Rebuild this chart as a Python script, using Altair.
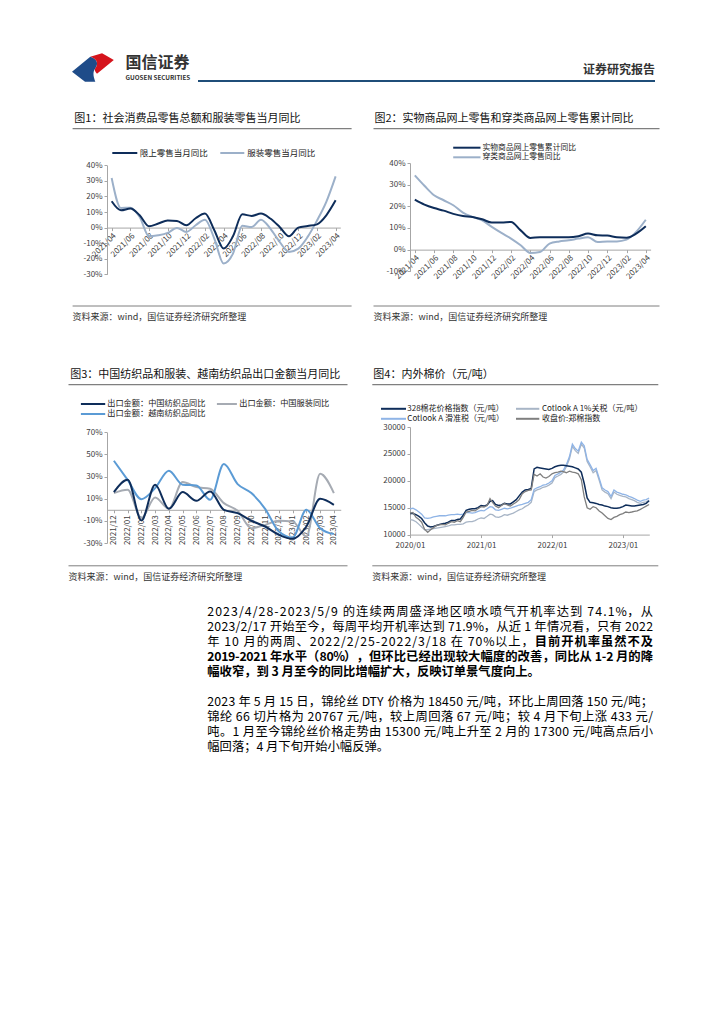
import json
import altair as alt
import pandas as pd

FONT = "Noto Sans CJK SC"
SOURCE = "资料来源：wind，国信证券经济研究所整理"

# ---------------- Chart 1 ----------------
c1_months = ["2021/04", "2021/05", "2021/06", "2021/07", "2021/08", "2021/09", "2021/10", "2021/11", "2021/12",
             "2022/01", "2022/02", "2022/03", "2022/04", "2022/05", "2022/06", "2022/07", "2022/08", "2022/09",
             "2022/10", "2022/11", "2022/12", "2023/01", "2023/02", "2023/03", "2023/04"]
c1_series = ["限上零售当月同比", "服装零售当月同比"]
c1_retail = [16.9, 11.1, 12.2, 7.9, 0.9, 2.6, 4.5, 4.3, 1.5, 6.0, 9.0, -1.7, -13.5, -5.6, 8.5, 7.5, 9.0, 5.8,
             0.4, -5.6, 0.0, 1.0, 2.1, 7.9, 17.5]
c1_apparel = [31.8, 12.6, 12.8, 6.8, -5.6, -4.9, -3.4, -0.2, -2.8, 1.5, 5.1, -7.1, -23.1, -16.7, 1.1, 0.4, 5.1,
              -0.6, -9.2, -15.6, -13.5, -6.0, 4.5, 16.5, 32.9]

# ---------------- Chart 2 ----------------
c2_series = ["实物商品网上零售累计同比", "穿类商品网上零售同比"]
c2_online = [23.1, 20.8, 19.2, 18.0, 16.5, 15.5, 15.1, 14.0, 12.5, 12.5, 12.8, 8.9, 5.4, 5.7, 5.7, 5.7, 5.7,
             6.2, 7.4, 6.6, 6.5, 5.7, 5.5, 7.4, 10.8]
c2_apparel = [34.3, 29.5, 25.1, 22.8, 20.5, 17.1, 15.1, 13.5, 10.5, 7.7, 5.1, 2.0, -1.5, -1.1, 2.8, 3.8, 4.3,
              5.1, 5.7, 3.5, 3.8, 3.8, 4.6, 8.2, 13.8]

# ---------------- Chart 3 ----------------
c3_months = ["2021/12", "2022/01", "2022/02", "2022/03", "2022/04", "2022/05", "2022/06", "2022/07", "2022/08",
             "2022/09", "2022/10", "2022/11", "2022/12", "2023/01", "2023/02", "2023/03", "2023/04"]
c3_series = ["出口金额：中国纺织品同比", "出口金额：中国服装同比", "出口金额：越南纺织品同比"]
c3_cn_textile = [16.0, 27.1, -9.6, 22.6, 0.9, 16.0, 8.1, 16.6, 0.0, -3.0, -9.9, -15.1, -22.6, -26.2, -15.1, 9.9, 4.5]
c3_cn_apparel = [15.1, 18.1, -7.5, 11.1, 0.9, 25.0, 20.5, 19.0, 6.0, -0.9, -16.6, -13.6, -9.9, -10.5, -24.1, 32.5, 15.1]
c3_vn_textile = [44.3, 27.1, 9.6, 19.6, 35.2, 22.6, 22.0, 9.0, 41.3, 23.2, 15.1, 0.9, -19.6, -25.0, 0.0, -16.6, -22.0]

# ---------------- Chart 4 (semi-monthly readings) ----------------
c4_series = ["328棉花价格指数（元/吨）", "Cotlook A 1%关税（元/吨）", "Cotlook A 滑准税（元/吨）", "收盘价:郑棉指数"]
c4_dates = [f"{y}-{m:02d}-{d:02d}" for y in range(2020, 2024) for m in range(1, 13) for d in (1, 16)][:82]
c4_328 = [13900, 13900, 13700, 13400, 13000, 12200, 11600, 11400, 11500, 11700, 11900, 12000,
          12100, 12300, 12600, 12600, 12800, 12900, 13600, 14500, 14700, 14800, 14800, 15000,
          15400, 15300, 15500, 16200, 16300, 15600, 15400, 15500, 15800, 15700, 15700, 16100,
          16500, 17200, 17900, 18300, 18400, 18600, 22200, 22500, 22400, 22300, 22200, 22100,
          22300, 22600, 22800, 22900, 22900, 22800, 22700, 22600, 22400, 22200, 21600, 19500,
          16800, 16000, 15900, 15800, 15600, 15500, 15300, 15200, 15000, 14900, 14900, 15000,
          15200, 15500, 15400, 15300, 15300, 15400, 15500, 15600, 15800, 16300]
c4_cot1 = [12800, 12700, 12400, 11900, 11400, 10900, 10900, 11000, 11100, 11200, 11300, 11400,
           11500, 11600, 11800, 11800, 11900, 11900, 12000, 12300, 12400, 12400, 12600, 12900,
           13100, 13000, 13400, 13800, 13700, 13300, 13200, 13400, 13700, 13600, 13800, 14000,
           14300, 14600, 14800, 15200, 15500, 16000, 18000, 18300, 18500, 18800, 18900, 19200,
           19600, 20600, 20900, 21200, 21600, 22600, 24100, 26400, 25600, 25100, 26800, 26100,
           23600, 22600, 21500, 21900, 20100, 18300, 17900, 17600, 16700, 17900, 17500, 17300,
           17100, 17000, 16700, 16500, 16300, 16000, 15800, 16000, 16100, 16400]
c4_slide = [14800, 14900, 14600, 14200, 13800, 13100, 13000, 13100, 13300, 13400, 13500, 13500,
            13500, 13600, 13700, 13700, 13800, 13700, 13800, 14100, 14100, 14000, 14100, 14300,
            14500, 14400, 14800, 15200, 15100, 14600, 14500, 14700, 14900, 14800, 14900, 15100,
            15300, 15500, 15600, 15800, 16000, 16500, 18400, 18700, 18900, 19200, 19300, 19600,
            20000, 21000, 21300, 21600, 22000, 23000, 24500, 26800, 26000, 25500, 27200, 26500,
            24000, 23000, 21900, 22300, 20500, 18700, 18300, 18000, 17100, 18300, 17900, 17700,
            17500, 17400, 17100, 16900, 16700, 16400, 16200, 16400, 16500, 16800]
c4_zce = [14000, 14100, 13200, 12800, 12300, 11000, 10400, 10900, 11300, 11700, 11800, 11900,
          11800, 12100, 12400, 12300, 12600, 12400, 13200, 14200, 14300, 14500, 14400, 14800,
          15200, 15100, 15400, 16700, 16000, 15300, 15000, 15400, 15800, 15500, 15300, 15700,
          16000, 16500, 17600, 18000, 18200, 18300, 21200, 20900, 21300, 20700, 20500, 20800,
          21300, 21500, 21600, 21800, 21700, 21500, 21800, 21600, 21500, 21300, 20200, 17000,
          15000, 14700, 15200, 15000, 14400, 14000, 13500, 13000, 12800, 13200, 13400, 13700,
          13900, 14200, 14100, 14200, 14300, 14400, 14700, 15000, 15300, 15600]

# ---------------- Text (each line: list of (segment, bold)) ----------------
para1 = [
    [("2023/4/28-2023/5/9 的连续两周盛泽地区喷水喷气开机率达到 74.1%，从", False)],
    [("2023/2/17 开始至今，每周平均开机率达到 71.9%，从近 1 年情况看，只有 2022", False)],
    [("年 10 月的两周、2022/2/25-2022/3/18 在 70%以上，", False), ("目前开机率虽然不及", True)],
    [("2019-2021 年水平（80%），但环比已经出现较大幅度的改善，同比从 1-2 月的降", True)],
]
para1_last = ("幅收窄，到 3 月至今的同比增幅扩大，反映订单景气度向上。", True)
para2 = [
    [("2023 年 5 月 15 日，锦纶丝 DTY 价格为 18450 元/吨，环比上周回落 150 元/吨；", False)],
    [("锦纶 66 切片格为 20767 元/吨，较上周回落 67 元/吨；较 4 月下旬上涨 433 元/", False)],
    [("吨。1 月至今锦纶丝价格走势由 15300 元/吨上升至 2 月的 17300 元/吨高点后小", False)],
]
para2_last = ("幅回落；4 月下旬开始小幅反弹。", False)

NAVY = "#0e2d5a"
LIGHT = "#9cb0c9"
AX = dict(grid=False, domainColor="#a6a6a6", tickColor="#a6a6a6", tickSize=3, labelFontSize=8,
          labelColor="#404040", labelFont=FONT, title=None, labelOverlap=False, labelFlush=False)


def T(x, y, s, size, color="#000", align="left", weight="normal"):
    return alt.Chart(pd.DataFrame({"t": [s]})).mark_text(
        align=align, baseline="middle", fontSize=size, color=color, fontWeight=weight, font=FONT
    ).encode(x=alt.value(x), y=alt.value(y), text="t:N")


def R(x1, x2, y, color, w):
    return alt.Chart(pd.DataFrame({"a": [0]})).mark_rule(color=color, strokeWidth=w).encode(
        x=alt.value(x1), x2=alt.value(x2), y=alt.value(y))


def S(w=1, h=1):
    return alt.Chart(pd.DataFrame({"a": [0]})).mark_point(opacity=0, size=0.01).encode(
        x=alt.value(0.5), y=alt.value(0.5)).properties(width=w, height=h)


def decor(ox, oy, title, tpos, span, rule_y, src_rule_y, src_y, legend, lsize=8.5):
    L = [T(tpos[0] - ox, tpos[1] - oy, title, 11, "#111"),
         R(span[0] - ox, span[1] - ox, rule_y - oy, "#7f7f7f", 1.3)]
    for (x1, x2, y, col, lab, tx) in legend:
        L.append(R(x1 - ox, x2 - ox, y - oy, col, 2))
        L.append(T(tx - ox, y - oy, lab, lsize, "#222"))
    L.append(R(span[0] - ox, span[1] - ox, src_rule_y - oy, "#7f7f7f", 1))
    L.append(T(span[0] - ox, src_y - oy, SOURCE, 9, "#333"))
    return L


def line(df, x, y, color, width=2, interp="monotone"):
    return alt.Chart(df).mark_line(color=color, strokeWidth=width, interpolate=interp).encode(x=x, y=y)


def pct_y(lo, hi, vals, rng):
    return alt.Y("v:Q", scale=alt.Scale(domain=[lo, hi], nice=False, zero=False, range=rng),
                 axis=alt.Axis(values=vals, labelExpr="datum.value + '%'", labelPadding=2, **AX))


# ---- Panel 1 ----
O1 = (102.7, 162.7); W1, H1, D1 = 233.3, 111.3, 2.3
zero1 = D1 + (H1 - D1) * 40 / 70
x1 = alt.X("i:Q", scale=alt.Scale(domain=[-0.5, 24.5], nice=False, zero=False),
           axis=alt.Axis(values=list(range(0, 25, 2)), labelExpr=json.dumps(c1_months) + "[datum.value]",
                         labelAngle=-45, labelAlign="right", labelBaseline="top", labelPadding=1,
                         offset=-(H1 - zero1), **AX))
y1 = pct_y(-30, 40, list(range(-30, 41, 10)), [H1, D1])
p1 = alt.layer(
    line(pd.DataFrame({"i": range(25), "v": c1_apparel}), x1, y1, LIGHT),
    line(pd.DataFrame({"i": range(25), "v": c1_retail}), x1, y1, NAVY),
    *decor(O1[0], O1[1], "图1：社会消费品零售总额和服装零售当月同比", (70, 119), (68.3, 347.3), 128.3, 305.7, 316.7,
           [(108, 133, 152.7, NAVY, c1_series[0], 135.5), (216, 240, 152.7, LIGHT, c1_series[1], 243)])
).properties(width=W1, height=H1)

# ---- Panel 2 ----
O2 = (404.5, 162.7); W2, H2 = 240.6, 108.3
x2 = alt.X("i:Q", scale=alt.Scale(domain=[-0.5, 24.5], nice=False, zero=False),
           axis=alt.Axis(values=list(range(0, 25, 2)), labelExpr=json.dumps(c1_months) + "[datum.value]",
                         labelAngle=-45, labelAlign="right", labelBaseline="top", labelPadding=1,
                         offset=-(H2 * 10 / 50), **AX))
y2 = pct_y(-10, 40, list(range(-10, 41, 10)), [H2, 0])
p2 = alt.layer(
    line(pd.DataFrame({"i": range(25), "v": c2_apparel}), x2, y2, LIGHT),
    line(pd.DataFrame({"i": range(25), "v": c2_online}), x2, y2, NAVY),
    *decor(O2[0], O2[1], "图2：实物商品网上零售和穿类商品网上零售累计同比", (369, 118.5), (368, 654), 128.3, 305.7, 316.7,
           [(447.7, 475, 147.4, NAVY, c2_series[0], 477), (447.7, 475, 157.0, LIGHT, c2_series[1], 477)],
           lsize=7.8)
).properties(width=W2, height=H2)

# ---- Panel 3 ----
O3 = (106.8, 425.7); W3, H3, D3 = 233.75, 116.0, 5.3
zero3 = D3 + (H3 - D3) * 70 / 100
C3_GRAY, C3_BLUE = "#a6abb3", "#5b9bd5"
x3 = alt.X("i:Q", scale=alt.Scale(domain=[-0.5, 16.5], nice=False, zero=False),
           axis=alt.Axis(values=list(range(17)), labelExpr=json.dumps(c3_months) + "[datum.value]",
                         labelAngle=-90, labelAlign="right", labelBaseline="middle", labelPadding=2,
                         offset=-(H3 - zero3), **AX))
y3 = pct_y(-30, 70, [-30, -10, 10, 30, 50, 70], [H3, D3])
p3 = alt.layer(
    line(pd.DataFrame({"i": range(17), "v": c3_cn_apparel}), x3, y3, C3_GRAY),
    line(pd.DataFrame({"i": range(17), "v": c3_vn_textile}), x3, y3, C3_BLUE),
    line(pd.DataFrame({"i": range(17), "v": c3_cn_textile}), x3, y3, NAVY),
    *decor(O3[0], O3[1], "图3：中国纺织品和服装、越南纺织品出口金额当月同比", (70, 374), (68.3, 347.3), 383.3, 564.5, 575.5,
           [(80.7, 105, 402.7, NAVY, c3_series[0], 107), (216.7, 236.7, 402.7, C3_GRAY, c3_series[1], 239),
            (80.7, 105, 412.7, C3_BLUE, c3_series[2], 107)], lsize=8.2)
).properties(width=W3, height=H3)

# ---- Panel 4 ----
O4 = (405.7, 425.7); W4, H4 = 239.3, 107.6
C4 = ["#0e2d5a", "#a8b5c6", "#8fb4e6", "#7f7f7f"]
x4 = alt.X("d:T", scale=alt.Scale(type="utc", domain=[alt.DateTime(year=2020, month=1, date=1, utc=True),
                                                      alt.DateTime(year=2023, month=5, date=17, utc=True)]),
           axis=alt.Axis(values=[alt.DateTime(year=yy, month=1, date=1, utc=True) for yy in (2020, 2021, 2022, 2023)],
                         format="%Y/%m", labelPadding=4, **AX))
y4 = alt.Y("v:Q", scale=alt.Scale(domain=[10000, 30000], nice=False, zero=False),
           axis=alt.Axis(values=[10000, 15000, 20000, 25000, 30000], format="d", labelPadding=2, **AX))
p4 = alt.layer(
    line(pd.DataFrame({"d": c4_dates, "v": c4_cot1}), x4, y4, C4[1], 1.3, "linear"),
    line(pd.DataFrame({"d": c4_dates, "v": c4_slide}), x4, y4, C4[2], 1.3, "linear"),
    line(pd.DataFrame({"d": c4_dates, "v": c4_328}), x4, y4, C4[0], 1.5, "linear"),
    line(pd.DataFrame({"d": c4_dates, "v": c4_zce}), x4, y4, C4[3], 1.3, "linear"),
    *decor(O4[0], O4[1], "图4：内外棉价（元/吨）", (369, 374), (368, 654), 383.3, 564.5, 575.5,
           [(376.7, 401.7, 407.5, C4[0], c4_series[0], 403), (511.7, 535, 407.5, C4[1], c4_series[1], 537.7),
            (376.7, 401.7, 417.5, C4[2], c4_series[2], 403), (511.7, 535, 417.5, C4[3], c4_series[3], 537.7)],
           lsize=8)
).properties(width=W4, height=H4)

# ---- Header ----
BLUE_PATH = "M-1,0.2 L-0.13,-0.51 C0.15,-0.45 0.3,-0.2 0.11,0.04 C-0.05,0.25 0.05,0.5 0.11,0.68 L-0.38,0.68 Z"
RED_PATH = "M-0.13,-0.51 L0.43,-0.68 L0.6,-0.58 L0.99,-0.36 L0.19,0.3 C0.1,0.2 0.05,0.1 0.11,0.04 C0.3,-0.2 0.15,-0.45 -0.13,-0.51 Z"
logo_df = pd.DataFrame({"a": [0]})
header = alt.layer(
    alt.Chart(logo_df).mark_point(shape=BLUE_PATH, size=1764, filled=True, color="#1f4c89", opacity=1).encode(
        x=alt.value(85), y=alt.value(59.5)),
    alt.Chart(logo_df).mark_point(shape=RED_PATH, size=1764, filled=True, color="#d5141c", opacity=1).encode(
        x=alt.value(85), y=alt.value(59.5)),
    T(117.5, 54.5, "国信证券", 16, "#333", weight="bold"),
    T(117.5, 70.3, "GUOSEN SECURITIES", 6.3, "#333", weight="bold"),
    T(647, 62, "证券研究报告", 12, "#333", align="right", weight="bold"),
    R(190, 647, 73, "#1f4e79", 2),
).properties(width=1, height=154.7)

# ---- Text block (justified lines laid out glyph by glyph) ----
FS = 12.3
TOP = 541.7
LEFT, RIGHT = 207.3 - 8, 653.0 - 8


def cw(c):
    if c.isdigit():
        return 0.555
    if c == " ":
        return 0.224
    if c == "/":
        return 0.39
    if c == "-":
        return 0.35
    if c == ".":
        return 0.28
    if c == "%":
        return 0.87
    if c.isascii() and c.isalpha():
        return 0.6
    return 1.0


rows = []
def justify(segments, ypage):
    chars = [(c, b) for s, b in segments for c in s]
    widths = [cw(c) * FS for c, _ in chars]
    extra = (RIGHT - LEFT - sum(widths)) / (len(chars) - 1)
    x = LEFT
    for (c, b), w in zip(chars, widths):
        if c != " ":
            rows.append({"ch": c, "x": x, "y": ypage - TOP, "b": b})
        x += w + extra


for k, segs in enumerate(para1):
    justify(segs, 611 + 15 * k)
for k, segs in enumerate(para2):
    justify(segs, 701 + 15 * k)
glyphs = pd.DataFrame(rows)


def glyph_layer(bold):
    return alt.Chart(glyphs[glyphs["b"] == bold]).mark_text(
        align="left", baseline="middle", fontSize=FS, color="#000",
        fontWeight="bold" if bold else "normal", font=FONT
    ).encode(x=alt.X("x:Q", scale=None), y=alt.Y("y:Q", scale=None), text="ch:N")


textblock = alt.layer(
    glyph_layer(False), glyph_layer(True),
    T(LEFT, 611 + 60 - TOP, para1_last[0], FS, "#000", weight="bold"),
    T(LEFT, 701 + 45 - TOP, para2_last[0], FS, "#000"),
).properties(width=1, height=260)

items = [
    header, S(), S(), S(),
    S(94.7, 1), p1, S(68.5, 1), p2,
    S(1, 151.7), S(), S(), S(),
    S(98.8, 1), p3, S(65.15, 1), p4,
    textblock, S(), S(), S(),
]

chart = alt.concat(*items, columns=4, spacing=0, bounds="flush",
                   align={"row": "each", "column": "none"}).properties(
    padding=0
).configure(font=FONT).configure_view(strokeWidth=0)

chart.save("out.html", embed_options={"renderer": "svg", "actions": False})
